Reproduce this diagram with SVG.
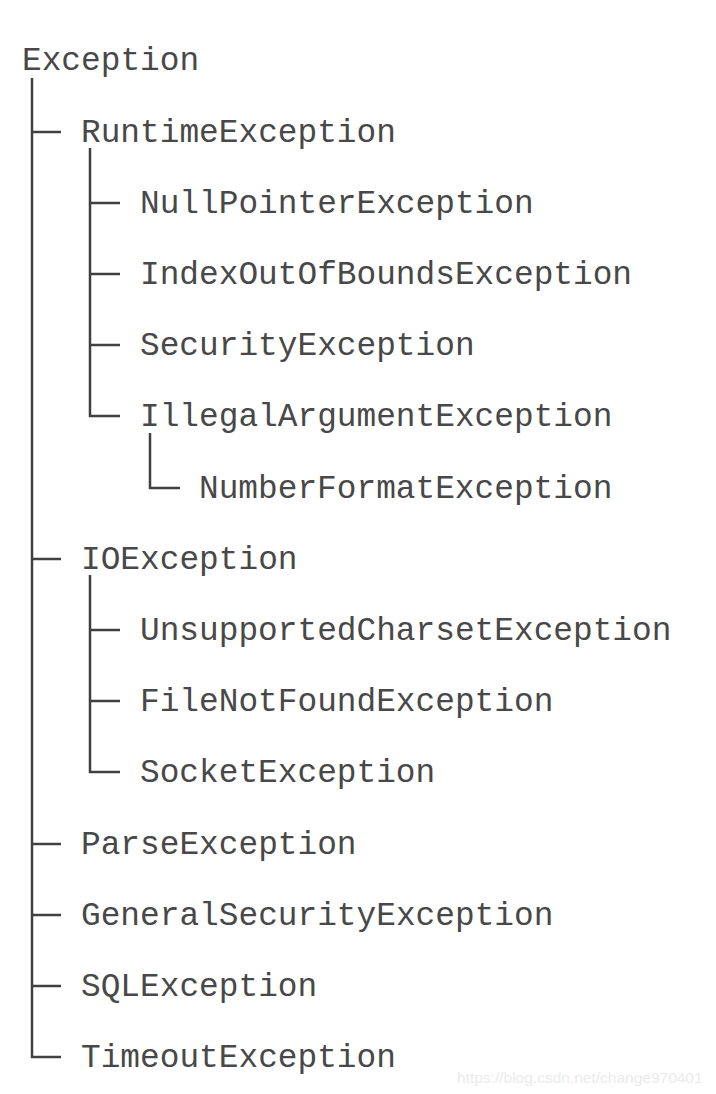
<svg xmlns="http://www.w3.org/2000/svg" width="716" height="1094" viewBox="0 0 716 1094">
<style>
.t{font-family:"Liberation Mono","Courier New",monospace;font-size:32.8px;fill:#484848}
.c{stroke:#404040;stroke-width:2.5;fill:none}
.w{font-family:"Liberation Sans",Arial,sans-serif;font-size:15.5px;fill:#ebebeb}
</style>
<rect width="716" height="1094" fill="#fff"/>
<g id="connectors">
<path class="c" d="M32 78V1057H61"/>
<path class="c" d="M32 132H61M32 559H61M32 844H61M32 915H61M32 986H61"/>
<path class="c" d="M90 148V416H120M90 203H120M90 274H120M90 345H120"/>
<path class="c" d="M150 433V488H180"/>
<path class="c" d="M90 575V772H120M90 630H120M90 701H120"/>
</g>
<g id="n0"><text class="t" x="22" y="70">Exception</text></g>
<g id="n1"><text class="t" x="81" y="142">RuntimeException</text></g>
<g id="n2"><text class="t" x="140" y="213">NullPointerException</text></g>
<g id="n3"><text class="t" x="140" y="284">IndexOutOfBoundsException</text></g>
<g id="n4"><text class="t" x="140" y="355">SecurityException</text></g>
<g id="n5"><text class="t" x="140" y="426">IllegalArgumentException</text></g>
<g id="n6"><text class="t" x="199" y="498">NumberFormatException</text></g>
<g id="n7"><text class="t" x="81" y="569">IOException</text></g>
<g id="n8"><text class="t" x="140" y="640">UnsupportedCharsetException</text></g>
<g id="n9"><text class="t" x="140" y="711">FileNotFoundException</text></g>
<g id="n10"><text class="t" x="140" y="782">SocketException</text></g>
<g id="n11"><text class="t" x="81" y="854">ParseException</text></g>
<g id="n12"><text class="t" x="81" y="925">GeneralSecurityException</text></g>
<g id="n13"><text class="t" x="81" y="996">SQLException</text></g>
<g id="n14"><text class="t" x="81" y="1067">TimeoutException</text></g>
<text class="w" x="457" y="1083">https://blog.csdn.net/change970401</text>
</svg>
